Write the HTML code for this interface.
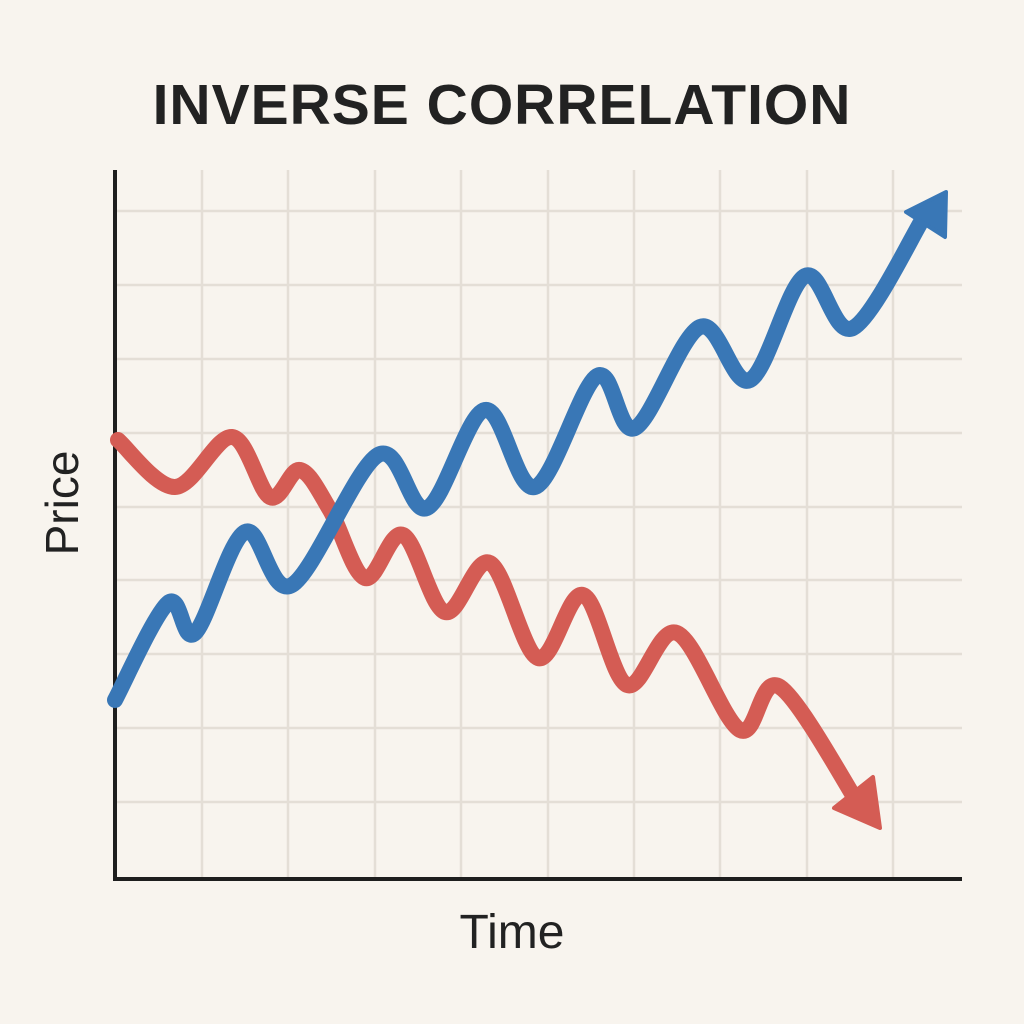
<!DOCTYPE html>
<html><head><meta charset="utf-8"><style>
html,body{margin:0;padding:0;background:#f8f4ee;}
svg{display:block}
</style></head><body>
<svg id="s" width="1024" height="1024" viewBox="0 0 1024 1024" xmlns="http://www.w3.org/2000/svg">
<rect width="1024" height="1024" fill="#f8f4ee"/>
<g stroke="#e4ded6" stroke-width="2.5">
<line x1="202" y1="170" x2="202" y2="878"/><line x1="288" y1="170" x2="288" y2="878"/>
<line x1="375" y1="170" x2="375" y2="878"/><line x1="461" y1="170" x2="461" y2="878"/>
<line x1="548" y1="170" x2="548" y2="878"/><line x1="634" y1="170" x2="634" y2="878"/>
<line x1="720" y1="170" x2="720" y2="878"/><line x1="807" y1="170" x2="807" y2="878"/>
<line x1="893" y1="170" x2="893" y2="878"/>
<line x1="115" y1="211" x2="962" y2="211"/><line x1="115" y1="285" x2="962" y2="285"/>
<line x1="115" y1="359" x2="962" y2="359"/><line x1="115" y1="433" x2="962" y2="433"/>
<line x1="115" y1="507" x2="962" y2="507"/><line x1="115" y1="580" x2="962" y2="580"/>
<line x1="115" y1="654" x2="962" y2="654"/><line x1="115" y1="728" x2="962" y2="728"/>
<line x1="115" y1="802" x2="962" y2="802"/>
</g>
<path d="M115 170 V879 H962" fill="none" stroke="#1e1e1e" stroke-width="4"/>
<path id="red" fill="none" stroke="#d45c54" stroke-width="16" stroke-linecap="round" stroke-linejoin="round"/>
<path id="blue" fill="none" stroke="#3977b6" stroke-width="16" stroke-linecap="round" stroke-linejoin="round"/>
<polygon points="946,192 906,212 945,237" fill="#3977b6" stroke="#3977b6" stroke-width="4" stroke-linejoin="round"/>
<polygon points="880,828 834,808 873,777" fill="#d45c54" stroke="#d45c54" stroke-width="4" stroke-linejoin="round"/>
<text x="502" y="124" text-anchor="middle" font-family="Liberation Sans, sans-serif" font-weight="bold" font-size="57" letter-spacing="1" fill="#222">INVERSE CORRELATION</text>
<text x="512" y="948" text-anchor="middle" font-family="Liberation Sans, sans-serif" font-size="48" fill="#222">Time</text>
<text transform="translate(78,503) rotate(-90)" text-anchor="middle" font-family="Liberation Sans, sans-serif" font-size="46" fill="#222">Price</text>
</svg>
<script>
function cr(p){let d="M"+p[0][0]+" "+p[0][1];for(let i=0;i<p.length-1;i++){const a=p[Math.max(i-1,0)],b=p[i],c=p[i+1],e=p[Math.min(i+2,p.length-1)];d+=" C"+(b[0]+(c[0]-a[0])/6)+" "+(b[1]+(c[1]-a[1])/6)+" "+(c[0]-(e[0]-b[0])/6)+" "+(c[1]-(e[1]-b[1])/6)+" "+c[0]+" "+c[1];}return d;}
document.getElementById("blue").setAttribute("d",cr([[115,700],[168,603],[195,633],[245,532],[292,585],[378,455],[427,508],[485,410],[535,487],[597,376],[635,428],[700,327],[750,380],[805,276],[853,328],[925,215]]));
document.getElementById("red").setAttribute("d",cr([[118,440],[175,487],[232,437],[270,497],[300,470],[330,510],[365,578],[403,535],[445,612],[490,563],[538,658],[583,595],[627,685],[677,633],[740,730],[780,687],[862,810]]));
</script>
</body></html>
